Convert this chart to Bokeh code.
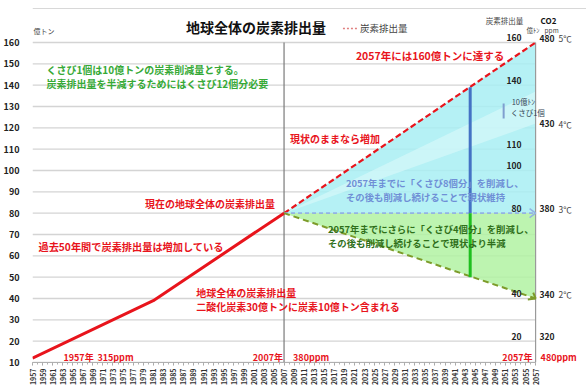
import math
from bokeh.plotting import figure
from bokeh.models import Range1d, FixedTicker, Label
from bokeh.embed import file_html
from bokeh.resources import INLINE

FONT = "Noto Sans CJK JP"

# ---- data ----
hist_years = [1957, 1981, 2007]
hist_emis = [12, 39, 80]
proj_years = [2007, 2057]
bau = [80, 160]          # 現状のままなら増加
stable = [80, 80]        # くさび8個分 削減 -> 現状維持
halve = [80, 40]         # さらにくさび4個分 -> 半減
band_hi = [80, 137]
band_lo = [80, 122]
wedge_year = [2044]
wedge_base = [80]
wedge_top = [139]
wedge_bottom = [50]
y_ticks = list(range(10, 161, 10))
year_ticks = list(range(1957, 2058, 2))
year_minor = list(range(1957, 2058))
inner_vals = [160, 140, 110, 100, 80, 40, 20]
ppm_levels = [160, 120, 80, 40, 20]
ppm_vals = ["480", "430", "380", "340", "320"]
temp_vals = ["5℃", "4℃", "3℃", "2℃", ""]

YEAR0, YEAR1 = 1957, 2057
EMIN, EMAX = 10, 160

RED = "#e8141c"

# frame: left 31px .. right edge, top edge .. 362px ; 2057 at 535px, 160 at 42px
PXY = 5.04      # px per year
PXV = 2.1333    # px per unit of emissions
x_end = YEAR1 + (586 - 535) / PXY
y_end = EMAX + 42 / PXV

p = figure(width=586, height=392, x_range=Range1d(YEAR0, x_end), y_range=Range1d(EMIN, y_end),
           output_backend="svg", toolbar_location=None,
           min_border_left=31, min_border_right=0, min_border_top=0, min_border_bottom=30)
p.outline_line_color = None
p.background_fill_color = "white"
p.border_fill_color = "white"
p.xgrid.visible = False
p.ygrid.visible = False

# y axis
p.yaxis.ticker = FixedTicker(ticks=y_ticks)
p.yaxis.bounds = (EMIN, EMAX)
p.yaxis.axis_line_color = None
p.yaxis.major_tick_line_color = None
p.yaxis.minor_tick_line_color = None
p.yaxis.major_label_text_font = FONT
p.yaxis.major_label_text_font_style = "bold"
p.yaxis.major_label_text_font_size = "9px"
p.yaxis.major_label_text_color = "#222222"
p.yaxis.major_label_standoff = 7

# x axis
p.xaxis.ticker = FixedTicker(ticks=year_ticks, minor_ticks=year_minor)
p.xaxis.bounds = (YEAR0, YEAR1)
p.xaxis.major_label_orientation = math.pi / 2
p.xaxis.major_label_text_font = FONT
p.xaxis.major_label_text_font_style = "bold"
p.xaxis.major_label_text_font_size = "7px"
p.xaxis.major_label_text_color = "#333333"
p.xaxis.major_label_standoff = 3
p.xaxis.axis_line_color = "#b0b0b0"
p.xaxis.major_tick_line_color = "#a0a0a0"
p.xaxis.minor_tick_line_color = "#b0b0b0"
p.xaxis.major_tick_out = 3
p.xaxis.major_tick_in = 0
p.xaxis.minor_tick_out = 2
p.xaxis.minor_tick_in = 0

# horizontal grid lines (only across the plotting period)
p.segment(x0=[YEAR0] * len(y_ticks), y0=y_ticks, x1=[YEAR1] * len(y_ticks), y1=y_ticks,
          line_color="#d4d4d4", line_width=1.3)

# fills
p.varea(x=proj_years, y1=stable, y2=bau, fill_color="#a8eef3", fill_alpha=0.85)
p.varea(x=proj_years, y1=band_lo, y2=band_hi, fill_color="#d6f8fa", fill_alpha=0.7)
p.varea(x=proj_years, y1=halve, y2=stable, fill_color="#b2f2a2", fill_alpha=0.85)

# 2007 divider and right edge
p.segment(x0=[proj_years[0]], y0=[EMIN], x1=[proj_years[0]], y1=[EMAX], line_color="#7a7a7a", line_width=1.2)
p.segment(x0=[YEAR1], y0=[EMIN], x1=[YEAR1], y1=[EMAX], line_color="#9a9a9a", line_width=1.2)

# lines
p.line(hist_years, hist_emis, line_color=RED, line_width=3)
p.line(proj_years, bau, line_color=RED, line_width=2.2, line_dash="6 3")
p.line(proj_years, stable, line_color="#93b3e3", line_width=1.6, line_dash="4 3")
p.line(proj_years, halve, line_color="#7d9b2a", line_width=2, line_dash="6 4")


def X(px):
    return YEAR0 + (px - 31) / PXY


def Y(py):
    return EMIN + (362 - py) / PXV


# arrow heads (open chevrons) at 2057
dx = 6 / PXY
dy = 4.5 / PXV
p.multi_line(xs=[[proj_years[1] - dx, proj_years[1], proj_years[1] - dx]],
             ys=[[stable[1] + dy, stable[1], stable[1] - dy]], line_color="#93b3e3", line_width=1.6)
p.multi_line(xs=[[proj_years[1] - dx * 0.4, proj_years[1], proj_years[1] - dx * 1.3]],
             ys=[[halve[1] + dy * 1.3, halve[1], halve[1] - dy * 0.2]], line_color="#7d9b2a", line_width=2)

p.segment(x0=wedge_year, y0=wedge_base, x1=wedge_year, y1=wedge_top, line_color="#4472c4", line_width=3)
p.segment(x0=wedge_year, y0=wedge_base, x1=wedge_year, y1=wedge_bottom, line_color="#1fbf1f", line_width=3)


def lab(text, px, py, size, color, align="left", bold=True):
    p.add_layout(Label(x=X(px), y=Y(py), text=text, text_font=FONT, text_font_size=f"{size}px",
                       text_color=color, text_align=align, text_baseline="middle",
                       text_font_style="bold" if bold else "normal"))


# top image border line
p.segment(x0=[X(31)], y0=[Y(8)], x1=[X(586)], y1=[Y(8)], line_color="#d8d8d8", line_width=1)

# wedge unit bracket
p.segment(x0=[X(503)], y0=[Y(118)], x1=[X(503)], y1=[Y(103)], line_color="#7f9fcf", line_width=2)

# headers
lab("地球全体の炭素排出量", 255, 27, 14, "#111111", align="center")
p.segment(x0=[X(342)], y0=[Y(28)], x1=[X(357)], y1=[Y(28)], line_color="#e08080", line_width=1.5, line_dash="2 2")
lab("炭素排出量", 359, 28, 9.5, "#444444", bold=False)
lab("億トン", 32, 31, 7, "#444444", bold=False)
lab("炭素排出量", 485, 20, 7.5, "#444444", bold=False)
lab("億ﾄﾝ", 526, 30, 6.5, "#444444", bold=False)
lab("CO2", 540, 20, 8, "#111111")
lab("ppm", 544, 30, 6.5, "#444444", bold=False)

for v in inner_vals:
    p.add_layout(Label(x=X(521), y=v + 2.3, text=str(v), text_font=FONT, text_font_size="8.5px",
                       text_color="#222222", text_align="right", text_baseline="middle",
                       text_font_style="bold"))

for lv, pv, tv in zip(ppm_levels, ppm_vals, temp_vals):
    p.add_layout(Label(x=X(539), y=lv + 2, text=pv, text_font=FONT, text_font_size="8.5px",
                       text_color="#222222", text_align="left", text_baseline="middle",
                       text_font_style="bold"))
    if tv:
        p.add_layout(Label(x=X(558), y=lv + 2, text=tv, text_font=FONT, text_font_size="8.5px",
                           text_color="#444444", text_align="left", text_baseline="middle"))

# annotations
lab("くさび1個は10億トンの炭素削減量とする。", 45, 69, 10, "#36a936")
lab("炭素排出量を半減するためにはくさび12個分必要", 45, 83, 10, "#36a936")
lab("2057年には160億トンに達する", 355, 55, 10.5, RED)
lab("現状のままなら増加", 289, 138, 10, RED)
lab("現在の地球全体の炭素排出量", 274, 203, 10, RED, align="right")
lab("過去50年間で炭素排出量は増加している", 37, 246, 10.2, RED)
lab("地球全体の炭素排出量", 195, 292, 10, RED)
lab("二酸化炭素30億トンに炭素10億トン含まれる", 195, 306, 10, RED)
lab("2057年までに「くさび8個分」を削減し、", 345, 183, 9.4, "#6f8fd6")
lab("その後も削減し続けることで現状維持", 345, 197, 9.4, "#6f8fd6")
lab("2057年までにさらに「くさび4個分」を削減し、", 327, 229, 9.4, "#2f6f1a")
lab("その後も削減し続けることで現状より半減", 327, 243, 9.4, "#2f6f1a")
lab("10億ﾄﾝ", 511, 101, 7.5, "#334455", bold=False)
lab("くさび1個", 510, 112, 7.5, "#334455", bold=False)

lab("1957年", 62, 357, 9, RED)
lab("315ppm", 96, 357, 9, RED)
lab("2007年", 282, 357, 9, RED, align="right")
lab("380ppm", 292, 357, 9, RED)
lab("2057年", 532, 357, 9, RED, align="right")
lab("480ppm", 540, 357, 9, RED)

open("out.html", "w").write(file_html(p, INLINE))
